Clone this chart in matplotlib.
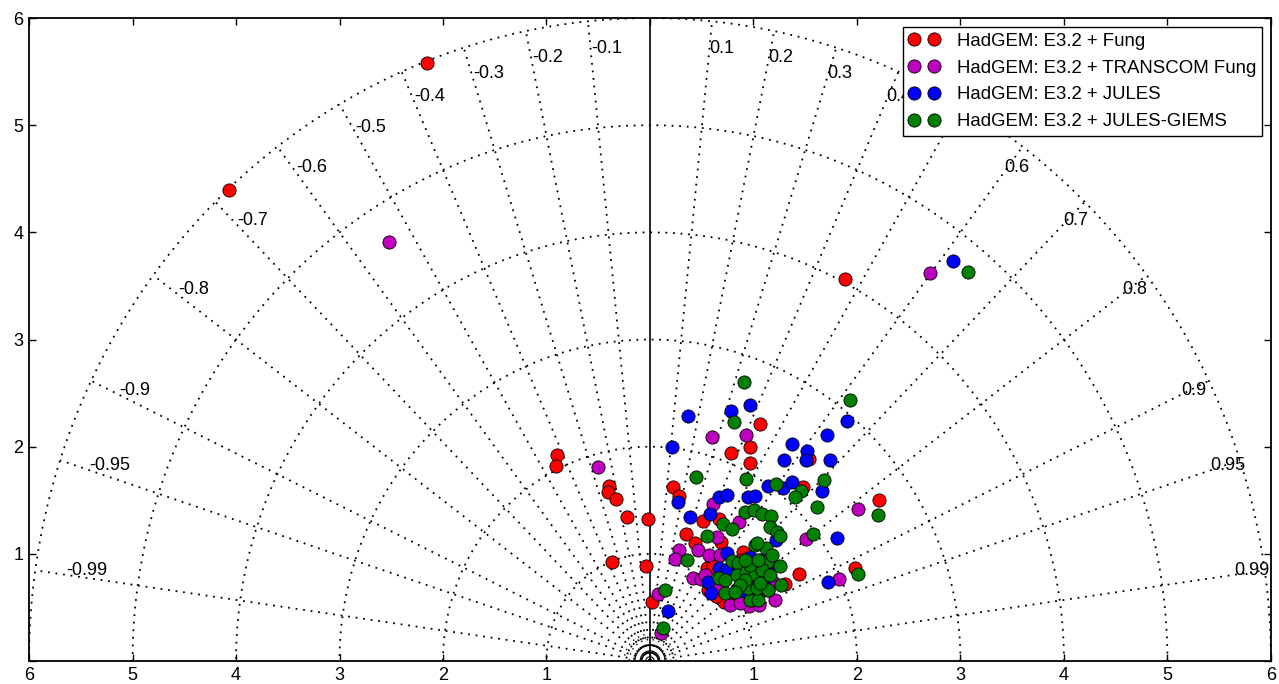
import numpy as np
import matplotlib
matplotlib.use("Agg")
import matplotlib.pyplot as plt

plt.rcParams['font.family'] = ['Liberation Sans', 'DejaVu Sans']

# ---------------- data (x = std*corr, y = std*sqrt(1-corr^2)) ----------------
labels = ["HadGEM: E3.2 + Fung", "HadGEM: E3.2 + TRANSCOM Fung",
          "HadGEM: E3.2 + JULES", "HadGEM: E3.2 + JULES-GIEMS"]
colors = ['r', 'm', 'b', 'g']

fung_x = [-2.155, -4.068, 1.884, 1.063, 0.966, 0.783, 0.966, 0.222, 0.280, 1.478,
          2.213, -0.899, -0.908, -0.396, -0.406, -0.329, -0.222, -0.019, -0.367, -0.039,
          0.019, 0.348, 0.512, 0.667, 0.686, 0.435, 0.899, 0.551, 0.609, 0.676,
          0.715, 0.841, 1.440, 1.304, 1.981, 1.536, 0.638, 0.879, 1.092, 0.560]
fung_y = [5.578, 4.394, 3.563, 2.211, 1.996, 1.940, 1.847, 1.623, 1.539, 1.623,
          1.502, 1.922, 1.819, 1.632, 1.577, 1.511, 1.343, 1.325, 0.924, 0.886,
          0.550, 1.185, 1.306, 1.325, 1.110, 1.101, 1.017, 0.868, 0.886, 0.588,
          0.550, 0.588, 0.812, 0.718, 0.868, 1.884, 0.606, 0.942, 0.662, 0.662]

transcom_x = [-2.522, 2.705, -0.502, 0.599, 0.928, 0.609, 2.010, 0.860, 0.647, 1.507,
              0.464, 0.280, 0.242, 0.570, 0.676, 0.415, 0.493, 0.647, 0.957, 1.053,
              1.140, 1.188, 1.826, 0.077, 0.106, 0.773, 0.870, 0.531, 1.208]
transcom_y = [3.909, 3.619, 1.810, 2.090, 2.108, 1.465, 1.418, 1.297, 1.157, 1.138,
              1.035, 1.035, 0.951, 0.989, 0.989, 0.774, 0.765, 0.700, 0.513, 0.522,
              0.662, 0.737, 0.765, 0.625, 0.261, 0.522, 0.541, 0.802, 0.569]

jules_x = [2.928, 0.367, 0.783, 0.966, 1.903, 1.710, 1.372, 1.517, 1.507, 1.295,
           1.739, 0.213, 0.271, 0.667, 0.744, 0.947, 1.014, 1.140, 1.285, 1.372,
           1.662, 0.386, 0.580, 1.217, 1.807, 0.744, 0.966, 1.063, 0.667, 0.560,
           0.589, 0.841, 0.918, 1.720, 0.174, 0.821, 0.986, 1.111, 0.889, 1.159,
           0.734]
jules_y = [3.731, 2.285, 2.332, 2.388, 2.239, 2.108, 2.024, 1.959, 1.875, 1.875,
           1.875, 1.996, 1.483, 1.530, 1.549, 1.530, 1.539, 1.632, 1.614, 1.670,
           1.586, 1.343, 1.371, 1.129, 1.147, 1.007, 0.970, 0.942, 0.868, 0.737,
           0.634, 0.672, 0.653, 0.737, 0.466, 0.849, 0.802, 0.774, 0.868, 0.896,
           0.849]

giems_x = [3.072, 0.908, 1.932, 0.812, 0.444, 0.928, 1.681, 1.217, 1.459, 1.401,
           1.614, 2.203, 0.705, 0.792, 0.918, 1.005, 1.082, 1.169, 1.159, 1.227,
           1.256, 1.575, 0.551, 0.357, 1.014, 1.121, 0.792, 0.850, 1.130, 1.256,
           1.266, 2.010, 0.667, 0.725, 0.725, 0.966, 1.043, 0.947, 1.034, 1.140,
           0.145, 0.126, 0.841, 0.928, 1.014, 1.082, 0.918, 1.063, 0.870, 1.159,
           1.034, 0.966, 1.043, 0.821, 1.179, 0.918]
giems_y = [3.629, 2.603, 2.435, 2.229, 1.716, 1.698, 1.688, 1.651, 1.586, 1.530,
           1.437, 1.362, 1.278, 1.231, 1.390, 1.409, 1.371, 1.353, 1.250, 1.203,
           1.166, 1.185, 1.166, 0.942, 1.082, 1.054, 0.933, 0.914, 0.924, 0.886,
           0.709, 0.812, 0.774, 0.756, 0.634, 0.569, 0.569, 0.681, 0.681, 0.662,
           0.662, 0.308, 0.802, 0.830, 0.802, 0.849, 0.756, 0.728, 0.709, 0.802,
           1.101, 0.896, 0.942, 0.644, 0.989, 0.942]

std_arcs = [1, 2, 3, 4, 5, 6]
corr_lines = [-0.99, -0.95, -0.9, -0.8, -0.7, -0.6, -0.5, -0.4, -0.3, -0.2, -0.1,
              0.1, 0.2, 0.3, 0.4, 0.5, 0.6, 0.7, 0.8, 0.9, 0.95, 0.99]
x_ticks = [-6, -5, -4, -3, -2, -1, 0, 1, 2, 3, 4, 5, 6]
x_ticklabels = ['6', '5', '4', '3', '2', '1', '', '1', '2', '3', '4', '5', '6']
y_ticks = [0, 1, 2, 3, 4, 5, 6]
y_ticklabels = ['', '1', '2', '3', '4', '5', '6']

# ---------------- figure ----------------
fig = plt.figure(figsize=(12.79, 6.84), dpi=100)
ax = fig.add_axes([0.0227, 0.0336, 0.971, 0.940])
ax.set_xlim(-6, 6)
ax.set_ylim(0, 6)

dot = (0, (1, 3.2))
th = np.linspace(0, np.pi, 400)
for r in std_arcs:
    ax.plot(r * np.cos(th), r * np.sin(th), color='k', lw=1.3, ls=dot, zorder=1)
# small arcs around origin
for r in [0.04, 0.095, 0.145]:
    ax.plot(r * np.cos(th), r * np.sin(th), color='k', lw=0.8, zorder=1)
for r in [0.2, 0.25]:
    ax.plot(r * np.cos(th), r * np.sin(th), color='k', lw=1.0, ls=dot, zorder=1)

for c in corr_lines:
    a = np.arccos(c)
    ax.plot([0, 6 * np.cos(a)], [0, 6 * np.sin(a)], color='k', lw=1.3, ls=dot, zorder=1)
    ax.text(5.7 * np.cos(a), 5.7 * np.sin(a) - 0.035, '%g' % c, ha='left', va='bottom',
            fontsize=13, zorder=2)
ax.plot([0, 0], [0, 6], color='k', lw=1.2, zorder=1)

series = [(fung_x, fung_y), (transcom_x, transcom_y), (jules_x, jules_y), (giems_x, giems_y)]
for (xs, ys), col, lab in zip(series, colors, labels):
    ax.plot(xs, ys, ls='none', marker='o', ms=9.5, mfc=col, mec='k', mew=0.6,
            label=lab, zorder=3)

leg = ax.legend(loc='upper right', numpoints=2, fontsize=13.4, handlelength=1.7,
                fancybox=False, framealpha=1, edgecolor='k', borderaxespad=0.5,
                labelspacing=0.52, handletextpad=0.9, borderpad=0.3)
leg.get_frame().set_linewidth(1.0)
leg.set_zorder(5)

ax.set_xticks(x_ticks)
ax.set_xticklabels(x_ticklabels)
ax.set_yticks(y_ticks)
ax.set_yticklabels(y_ticklabels)
ax.tick_params(direction='in', length=5, width=1, top=True, right=True,
               labelsize=13, pad=4)
for s in ax.spines.values():
    s.set_linewidth(1.3)

fig.savefig('out.png', dpi=100)
